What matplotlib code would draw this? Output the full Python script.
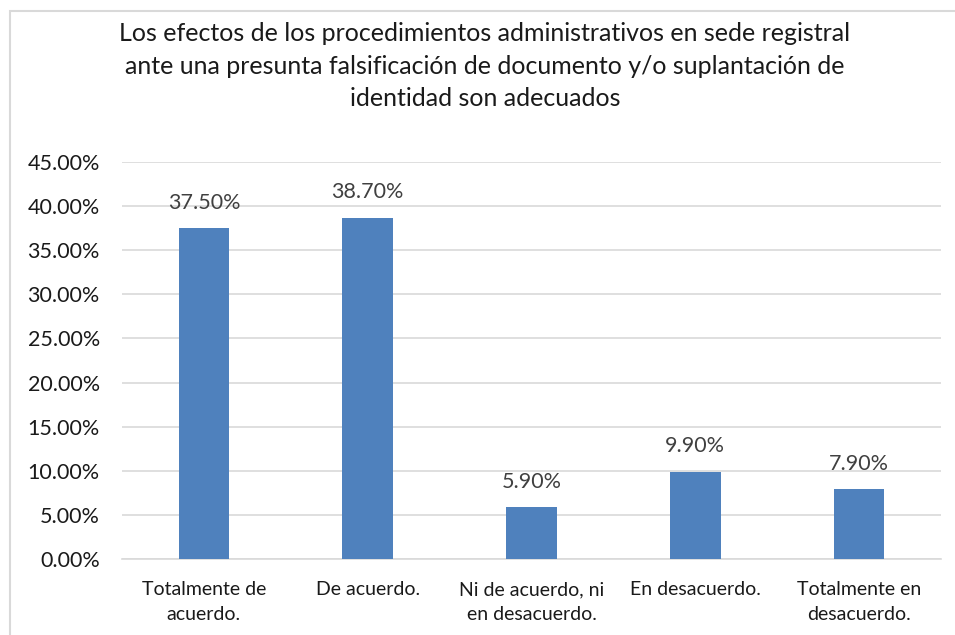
import matplotlib.pyplot as plt
from matplotlib.patches import Rectangle
from matplotlib.ticker import FuncFormatter

plt.rcParams['font.family'] = ['Lato', 'DejaVu Sans']

categorias = ["Totalmente de\nacuerdo.", "De acuerdo.", "Ni de acuerdo, ni\nen desacuerdo.",
              "En desacuerdo.", "Totalmente en\ndesacuerdo."]
porcentajes = [0.375, 0.387, 0.059, 0.099, 0.079]
titulo = ("Los efectos de los procedimientos administrativos en sede registral\n"
          "ante una presunta falsificación de documento y/o suplantación de\n"
          "identidad son adecuados")

fig = plt.figure(figsize=(9.55, 6.35), dpi=100)
ax = fig.add_axes([122 / 955, 1 - 559 / 635, (941 - 122) / 955, (559 - 162) / 635])

x = range(len(categorias))
bars = ax.bar(x, porcentajes, width=0.31, color="#4F81BD", zorder=3)

# etiquetas de datos
for b, v in zip(bars, porcentajes):
    ax.annotate(f"{v * 100:.2f}%", (b.get_x() + b.get_width() / 2, v),
                xytext=(0, 11), textcoords="offset points",
                ha="center", va="bottom", fontsize=15.5, color="#404040")

ax.set_xlim(-0.5, len(categorias) - 0.5)
ax.set_ylim(0, 0.45)
ax.set_yticks([i * 0.05 for i in range(10)])
ax.yaxis.set_major_formatter(FuncFormatter(lambda v, p: f"{v * 100:.2f}%"))
ax.set_xticks(list(x))
ax.set_xticklabels(categorias, linespacing=1.55)
ax.tick_params(axis="both", length=0, colors="#1a1a1a")
ax.tick_params(axis="x", pad=16, labelsize=14)
ax.tick_params(axis="y", pad=16, labelsize=15.5)
ax.grid(axis="y", color="#D9D9D9", linewidth=1.2, zorder=0)
for s in ["top", "right", "left"]:
    ax.spines[s].set_visible(False)
ax.spines["bottom"].set_color("#D9D9D9")
ax.spines["bottom"].set_linewidth(1.2)

fig.text(485 / 955, 1 - 22 / 635, titulo, ha="center", va="top", fontsize=18,
         color="#1a1a1a", linespacing=1.5)

# borde del gráfico
fig.patches.append(Rectangle((10 / 955, -0.1), 1.2, 1.1 - 11 / 635,
                             transform=fig.transFigure, fill=False,
                             edgecolor="#D9D9D9", linewidth=1.5))

fig.savefig("out.png", dpi=100)
